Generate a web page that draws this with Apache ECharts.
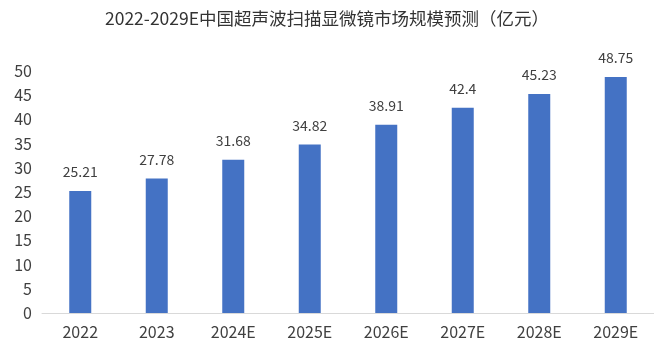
<!DOCTYPE html>
<html><head><meta charset="utf-8">
<script src="https://cdn.jsdelivr.net/npm/echarts@6/dist/echarts.min.js"></script>
<style>html,body{margin:0;padding:0;background:#fff}#c{width:654px;height:358px}</style>
</head><body><div id="c"></div>
<script>
const categories = ['2022','2023','2024E','2025E','2026E','2027E','2028E','2029E'];
const values = [25.21, 27.78, 31.68, 34.82, 38.91, 42.4, 45.23, 48.75];
const titleText = '2022-2029E中国超声波扫描显微镜市场规模预测（亿元）';
const font = '"Noto Sans CJK SC", "Noto Sans", sans-serif';
const chart = echarts.init(document.getElementById('c'), null, {renderer:'canvas'});
chart.setOption({
  animation:false,
  backgroundColor:'#fff',
  title:{text:titleText,left:'center',top:5,textStyle:{fontFamily:font,fontSize:17.5,fontWeight:'normal',color:'#333'}},
  grid:{left:42,right:0,top:71,bottom:45,containLabel:false},
  xAxis:{type:'category',data:categories,
    axisLine:{show:true,lineStyle:{color:'#d9d9d9',width:1}},
    axisTick:{show:false},
    axisLabel:{fontFamily:font,fontSize:16,color:'#404040',margin:11}},
  yAxis:{type:'value',min:0,max:50,interval:5,
    axisLine:{show:false},axisTick:{show:false},splitLine:{show:false},
    axisLabel:{fontFamily:font,fontSize:16,color:'#404040',margin:10}},
  series:[{type:'bar',data:values,barWidth:22,
    itemStyle:{color:'#4472C4'},
    label:{show:true,position:'top',distance:12,fontFamily:font,fontSize:14,color:'#404040'}}]
});
</script></body></html>
